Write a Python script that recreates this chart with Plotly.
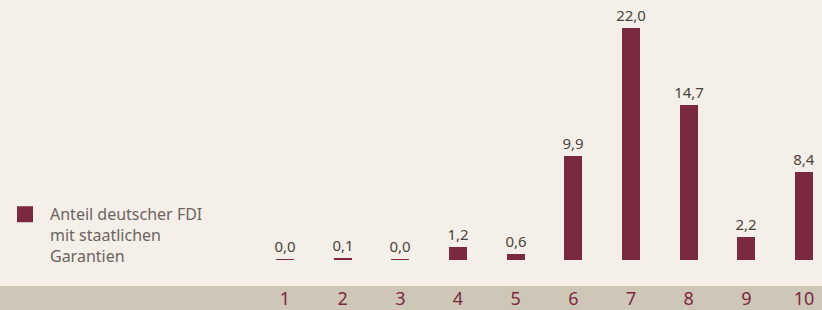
import plotly.graph_objects as go

categories = [1, 2, 3, 4, 5, 6, 7, 8, 9, 10]
values = [0.02, 0.1, 0.04, 1.2, 0.6, 9.9, 22.0, 14.7, 2.2, 8.4]
tick_labels = ["1", "2", "3", "4", "5", "6", "7", "8", "9", "10"]
series_name = "Anteil deutscher FDI<br>mit staatlichen<br>Garantien"

BG = "#F4EFE9"
BAND = "#CEC6B7"
BAR = "#7B2941"
FONT = "Noto Sans"

fig = go.Figure()
fig.add_trace(go.Bar(
    x=categories, y=values, width=0.31,
    marker=dict(color=BAR, line=dict(width=0)),
    texttemplate="%{y:.1f}", textposition="outside", constraintext="none",
    textfont=dict(family=FONT, size=15, color="#4A4440"),
    cliponaxis=False, showlegend=False, hoverinfo="skip",
))
fig.add_trace(go.Scatter(
    x=[None], y=[None], mode="markers", name=series_name,
    marker=dict(symbol="square", size=20, color=BAR),
    showlegend=True,
))

fig.update_layout(
    width=822, height=310,
    margin=dict(l=0, r=0, t=0, b=24),
    paper_bgcolor=BG, plot_bgcolor=BG,
    separators=",.",
    bargap=0,
    xaxis=dict(range=[-3.94, 10.31], tickvals=categories, ticktext=tick_labels,
               showgrid=False, zeroline=False, showline=False, ticks="",
               tickfont=dict(family=FONT, size=18, color=BAR)),
    yaxis=dict(range=[-2.47, 24.69], visible=False, showgrid=False, zeroline=False),
    legend=dict(x=0.0, y=0.31, xanchor="left", yanchor="top", valign="top",
                font=dict(family=FONT, size=16, color="#6B6460"),
                bgcolor="rgba(0,0,0,0)", itemwidth=40),
    shapes=[dict(type="rect", xref="paper", yref="paper", x0=0, x1=1,
                 y0=-24/286, y1=0, fillcolor=BAND, line=dict(width=0), layer="below")],
)

fig.write_html("out.html", config={"displayModeBar": False},
               post_script="document.body.style.margin='0';document.body.style.background='%s';" % BG)
